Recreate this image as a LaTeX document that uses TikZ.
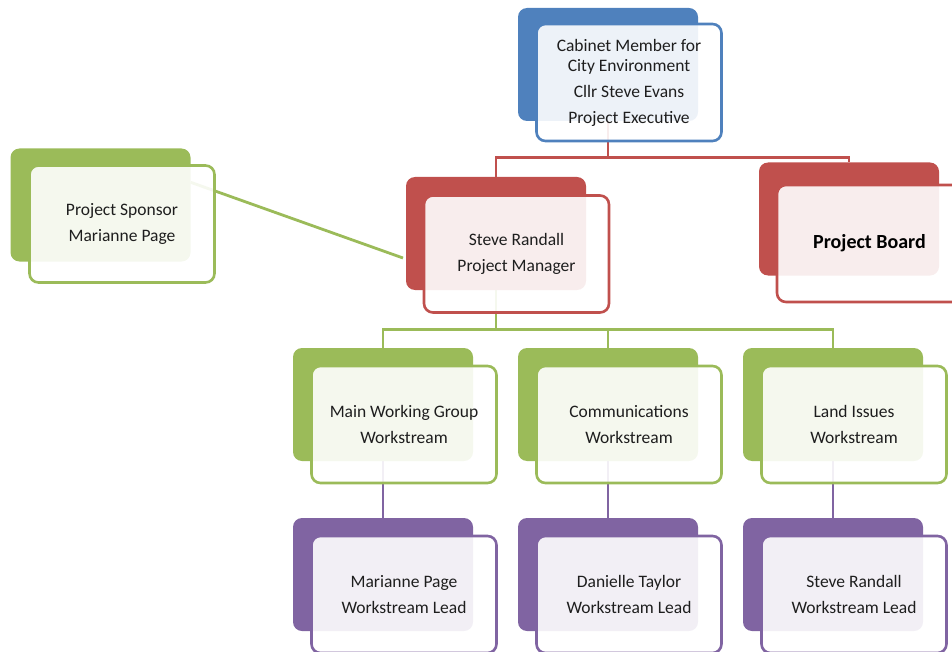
\documentclass[tikz,border=0pt]{standalone}
\usepackage{fontspec}
\setmainfont{Carlito}
\usetikzlibrary{positioning, calc, backgrounds}
\definecolor{orgblue}{HTML}{4F81BD}
\definecolor{orgred}{HTML}{C0504D}
\definecolor{orggreen}{HTML}{9BBB59}
\definecolor{orgpurple}{HTML}{8064A2}
\definecolor{inktext}{HTML}{1E1E1E}
\tikzset{
    backbox/.style ={fill=#1, draw=none, rounded corners=9pt, inner sep=0pt,
                     minimum width=180pt, minimum height=113pt},
    frontbox/.style={draw=#1, line width=2.6pt, fill=white, fill opacity=0.9,
                     text opacity=1, rounded corners=9pt, text=inktext,
                     minimum width=185pt, minimum height=117pt, align=center,
                     font=\fontsize{17.5}{20}\selectfont},
    linkline/.style={draw=#1, line width=2.8pt}
}

\begin{document}
\begin{tikzpicture}[x=1pt, y=-1pt]
  \useasboundingbox (0,0) rectangle (952,652);

  % top level
  \node[backbox=orgblue] (exec-b) at (608,64.5) {};
  \node[frontbox=orgblue] (exec) at (629,82.5)
       {Cabinet Member for\\City Environment\\[6pt]Cllr Steve Evans\\[6pt]Project Executive};

  \node[backbox=orggreen] (sponsor-b) at (100.5,205) {};
  \node[frontbox=orggreen] (sponsor) at (122,224) {Project Sponsor\\[6pt]Marianne Page};

  \node[backbox=orgred] (pm-b) at (496,233.5) {};
  \node[frontbox=orgred] (pm) at (516.5,254) {Steve Randall\\[6pt]Project Manager};

  \node[backbox=orgred] (board-b) at (849,219) {};
  \node[frontbox=orgred, font=\fontsize{20}{22}\selectfont\bfseries, text=black]
       (board) at (869.5,243.5) {Project Board};

  % workstreams
  \node[backbox=orggreen] (ws1-b) at (383,404.5) {};
  \node[frontbox=orggreen] (ws1) at (404,424.5) {Main Working Group\\[6pt]Workstream};
  \node[backbox=orggreen] (ws2-b) at (608,404.5) {};
  \node[frontbox=orggreen] (ws2) at (629,424.5) {Communications\\[6pt]Workstream};
  \node[backbox=orggreen] (ws3-b) at (833,404.5) {};
  \node[frontbox=orggreen] (ws3) at (854,424.5) {Land Issues\\[6pt]Workstream};

  % leads
  \node[backbox=orgpurple] (lead1-b) at (383,574.5) {};
  \node[frontbox=orgpurple] (lead1) at (404,594.5) {Marianne Page\\[6pt]Workstream Lead};
  \node[backbox=orgpurple] (lead2-b) at (608,574.5) {};
  \node[frontbox=orgpurple] (lead2) at (629,594.5) {Danielle Taylor\\[6pt]Workstream Lead};
  \node[backbox=orgpurple] (lead3-b) at (833,574.5) {};
  \node[frontbox=orgpurple] (lead3) at (854,594.5) {Steve Randall\\[6pt]Workstream Lead};

  \coordinate (pm-in) at (403,258);

  \begin{scope}[on background layer]
    \draw[linkline=orgred] (exec-b.south) -- ++(0,36) -| (pm-b.north);
    \draw[linkline=orgred] (exec-b.south) -- ++(0,36) -| (board-b.north);
    \draw[linkline=orggreen] ($(sponsor-b.north east)+(0,34)$) -- (pm-in);
    \foreach \w in {ws1,ws2,ws3}
      \draw[linkline=orggreen] (pm-b.south) -- ++(0,39) -| (\w-b.north);
    \foreach \w/\l in {ws1/lead1,ws2/lead2,ws3/lead3}
      \draw[linkline=orgpurple] (\w-b.south) -- (\l-b.north);
  \end{scope}
\end{tikzpicture}
\end{document}
